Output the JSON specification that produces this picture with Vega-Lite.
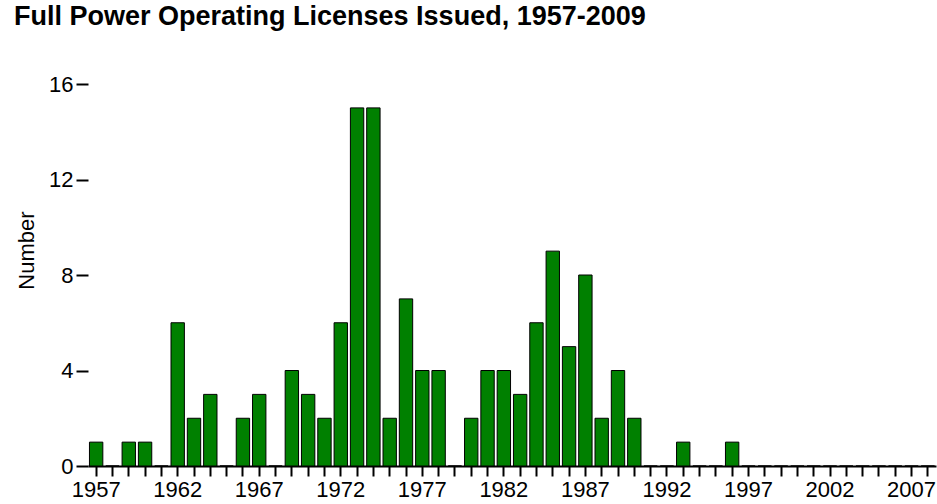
{
  "$schema": "https://vega.github.io/schema/vega-lite/v6.json",
  "width": 848,
  "height": 382,
  "autosize": "none",
  "padding": {"left": 88, "top": 84, "right": 1, "bottom": 38},
  "background": "white",
  "config": {
    "view": {"stroke": null},
    "font": "Liberation Sans"
  },
  "title": {
    "text": "Full Power Operating Licenses Issued, 1957-2009",
    "anchor": "start",
    "frame": "group",
    "orient": "top",
    "fontSize": 27,
    "fontWeight": "bold",
    "font": "Liberation Sans",
    "color": "black",
    "baseline": "alphabetic",
    "dx": -74,
    "offset": 21
  },
  "data": {
    "values": [
      {"year": 1957, "n": 1}, {"year": 1958, "n": 0}, {"year": 1959, "n": 1}, {"year": 1960, "n": 1},
      {"year": 1961, "n": 0}, {"year": 1962, "n": 6}, {"year": 1963, "n": 2}, {"year": 1964, "n": 3},
      {"year": 1965, "n": 0}, {"year": 1966, "n": 2}, {"year": 1967, "n": 3}, {"year": 1968, "n": 0},
      {"year": 1969, "n": 4}, {"year": 1970, "n": 3}, {"year": 1971, "n": 2}, {"year": 1972, "n": 6},
      {"year": 1973, "n": 15}, {"year": 1974, "n": 15}, {"year": 1975, "n": 2}, {"year": 1976, "n": 7},
      {"year": 1977, "n": 4}, {"year": 1978, "n": 4}, {"year": 1979, "n": 0}, {"year": 1980, "n": 2},
      {"year": 1981, "n": 4}, {"year": 1982, "n": 4}, {"year": 1983, "n": 3}, {"year": 1984, "n": 6},
      {"year": 1985, "n": 9}, {"year": 1986, "n": 5}, {"year": 1987, "n": 8}, {"year": 1988, "n": 2},
      {"year": 1989, "n": 4}, {"year": 1990, "n": 2}, {"year": 1991, "n": 0}, {"year": 1992, "n": 0},
      {"year": 1993, "n": 1}, {"year": 1994, "n": 0}, {"year": 1995, "n": 0}, {"year": 1996, "n": 1},
      {"year": 1997, "n": 0}, {"year": 1998, "n": 0}, {"year": 1999, "n": 0}, {"year": 2000, "n": 0},
      {"year": 2001, "n": 0}, {"year": 2002, "n": 0}, {"year": 2003, "n": 0}, {"year": 2004, "n": 0},
      {"year": 2005, "n": 0}, {"year": 2006, "n": 0}, {"year": 2007, "n": 0}, {"year": 2008, "n": 0}
    ]
  },
  "mark": {"type": "bar", "fill": "#008000", "stroke": "black", "strokeWidth": 1},
  "encoding": {
    "x": {
      "field": "year",
      "type": "ordinal",
      "scale": {"paddingInner": 0.18, "paddingOuter": 0.09},
      "axis": {
        "title": null,
        "labelAngle": 0,
        "labelExpr": "(datum.value - 1957) % 5 == 0 ? datum.label : ''",
        "labelFontSize": 22,
        "labelColor": "black",
        "labelFont": "Liberation Sans",
        "labelPadding": 3,
        "tickSize": 10,
        "tickWidth": 2,
        "tickColor": "black",
        "domainColor": "black",
        "domainWidth": 2,
        "grid": false
      }
    },
    "y": {
      "field": "n",
      "type": "quantitative",
      "scale": {"domain": [0, 16], "nice": false},
      "axis": {
        "title": "Number",
        "values": [0, 4, 8, 12, 16],
        "domain": false,
        "grid": false,
        "tickSize": 12,
        "tickWidth": 2,
        "tickColor": "black",
        "labelFontSize": 22,
        "labelColor": "black",
        "labelFont": "Liberation Sans",
        "labelPadding": 3,
        "titleFont": "Liberation Sans",
        "titleFontSize": 22,
        "titleFontWeight": "normal",
        "titleColor": "black",
        "titleAngle": -90,
        "titleAlign": "center",
        "titleBaseline": "alphabetic",
        "titleX": -55,
        "titleY": 166
      }
    }
  }
}
